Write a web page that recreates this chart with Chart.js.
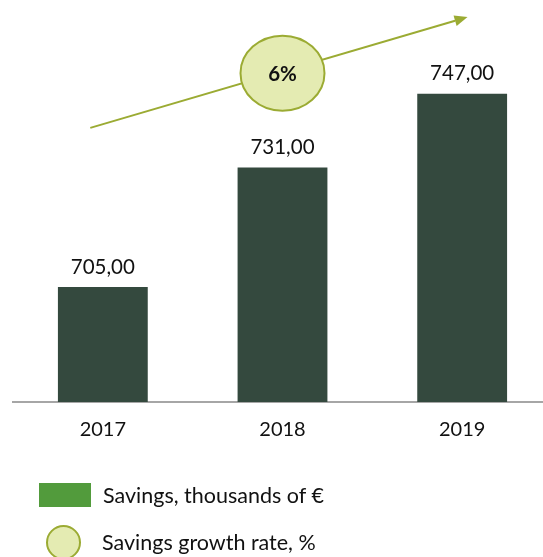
<!DOCTYPE html>
<html>
<head>
<meta charset="utf-8">
<script src="https://cdn.jsdelivr.net/npm/chart.js@4.4.1/dist/chart.umd.min.js"></script>
<style>
  html, body { margin: 0; padding: 0; background: #fff; overflow: hidden; }
  #wrap { position: relative; width: 553px; height: 557px; }
  .lg-text { position: absolute; font-family: Lato, "Open Sans", sans-serif; font-size: 21.5px; color: #111; line-height: 24px; white-space: nowrap; }
  .lg-box { position: absolute; left: 39px; top: 483px; width: 52px; height: 24px; background: #529b3c; }
  .lg-dot { position: absolute; left: 46px; top: 525px; width: 31px; height: 31px; border-radius: 50%; background: #e4ebb2; border: 2px solid #9bab33; }
</style>
</head>
<body>
<div id="wrap">
  <canvas id="c" width="553" height="557"></canvas>
  <div class="lg-box"></div>
  <div class="lg-text" id="lgBar" style="left:103px;top:483px;"></div>
  <div class="lg-dot"></div>
  <div class="lg-text" id="lgRate" style="left:102px;top:530px;"></div>
</div>
<script>
(function () {
  'use strict';

  var YEARS = ['2017', '2018', '2019'];
  var SAVINGS = [705, 731, 747];
  var GROWTH_LABEL = '6%';
  // trend arrow, in data units (category index, value)
  var ARROW_FROM = [-0.07, 739.6];
  var ARROW_TO = [2.03, 763.7];
  var BUBBLE_AT = [1, 751.5];
  var LEGEND = ['Savings, thousands of €', 'Savings growth rate, %'];

  var FONT = 'Lato, "Open Sans", sans-serif';
  var BAR_COLOR = '#34493e';
  var OLIVE = '#9bab33';

  document.getElementById('lgBar').textContent = LEGEND[0];
  document.getElementById('lgRate').textContent = LEGEND[1];

  function fmt(v) {
    return v.toFixed(2).replace('.', ',');
  }

  var valueLabels = {
    id: 'valueLabels',
    afterDatasetsDraw: function (chart) {
      var ctx = chart.ctx;
      var meta = chart.getDatasetMeta(0);
      ctx.save();
      ctx.font = '20.5px ' + FONT;
      ctx.fillStyle = '#111';
      ctx.textAlign = 'center';
      ctx.textBaseline = 'middle';
      meta.data.forEach(function (bar, i) {
        ctx.fillText(fmt(SAVINGS[i]), bar.x, bar.y - 20);
      });
      ctx.restore();
    }
  };

  var trend = {
    id: 'trend',
    afterDraw: function (chart) {
      var ctx = chart.ctx;
      var xs = chart.scales.x, ys = chart.scales.y;
      var x1 = xs.getPixelForValue(ARROW_FROM[0]), y1 = ys.getPixelForValue(ARROW_FROM[1]);
      var x2 = xs.getPixelForValue(ARROW_TO[0]), y2 = ys.getPixelForValue(ARROW_TO[1]);
      var ang = Math.atan2(y2 - y1, x2 - x1);
      var head = 13, half = 5.5;
      ctx.save();
      ctx.strokeStyle = OLIVE;
      ctx.fillStyle = OLIVE;
      ctx.lineWidth = 2;
      ctx.beginPath();
      ctx.moveTo(x1, y1);
      ctx.lineTo(x2 - Math.cos(ang) * head, y2 - Math.sin(ang) * head);
      ctx.stroke();
      ctx.beginPath();
      ctx.moveTo(x2, y2);
      ctx.lineTo(x2 - Math.cos(ang) * head - Math.sin(ang) * half, y2 - Math.sin(ang) * head + Math.cos(ang) * half);
      ctx.lineTo(x2 - Math.cos(ang) * head + Math.sin(ang) * half, y2 - Math.sin(ang) * head - Math.cos(ang) * half);
      ctx.closePath();
      ctx.fill();

      var cx = xs.getPixelForValue(BUBBLE_AT[0]), cy = ys.getPixelForValue(BUBBLE_AT[1]);
      ctx.beginPath();
      ctx.ellipse(cx, cy, 42, 37.5, 0, 0, Math.PI * 2);
      ctx.fillStyle = '#e4ebb2';
      ctx.fill();
      ctx.lineWidth = 2;
      ctx.strokeStyle = OLIVE;
      ctx.stroke();
      ctx.fillStyle = '#111';
      ctx.font = 'bold 20.5px ' + FONT;
      ctx.textAlign = 'center';
      ctx.textBaseline = 'middle';
      ctx.fillText(GROWTH_LABEL, cx, cy + 1);
      ctx.restore();
    }
  };

  new Chart(document.getElementById('c').getContext('2d'), {
    type: 'bar',
    data: {
      labels: YEARS,
      datasets: [{
        label: LEGEND[0],
        data: SAVINGS,
        backgroundColor: BAR_COLOR,
        borderWidth: 0,
        barPercentage: 1,
        categoryPercentage: 0.5
      }]
    },
    options: {
      responsive: false,
      animation: false,
      devicePixelRatio: 1,
      layout: { padding: { left: 13, right: 1, top: 0, bottom: 0 } },
      plugins: { legend: { display: false }, tooltip: { enabled: false } },
      scales: {
        x: {
          grid: { display: false, drawTicks: false },
          border: { display: true, color: '#a6a6a6', width: 2 },
          ticks: { color: '#111', font: { family: FONT, size: 20 }, padding: 16 },
          afterFit: function (s) { s.height = 155; }
        },
        y: { display: false, min: 680, max: 767.4 }
      }
    },
    plugins: [valueLabels, trend]
  });
})();
</script>
</body>
</html>
